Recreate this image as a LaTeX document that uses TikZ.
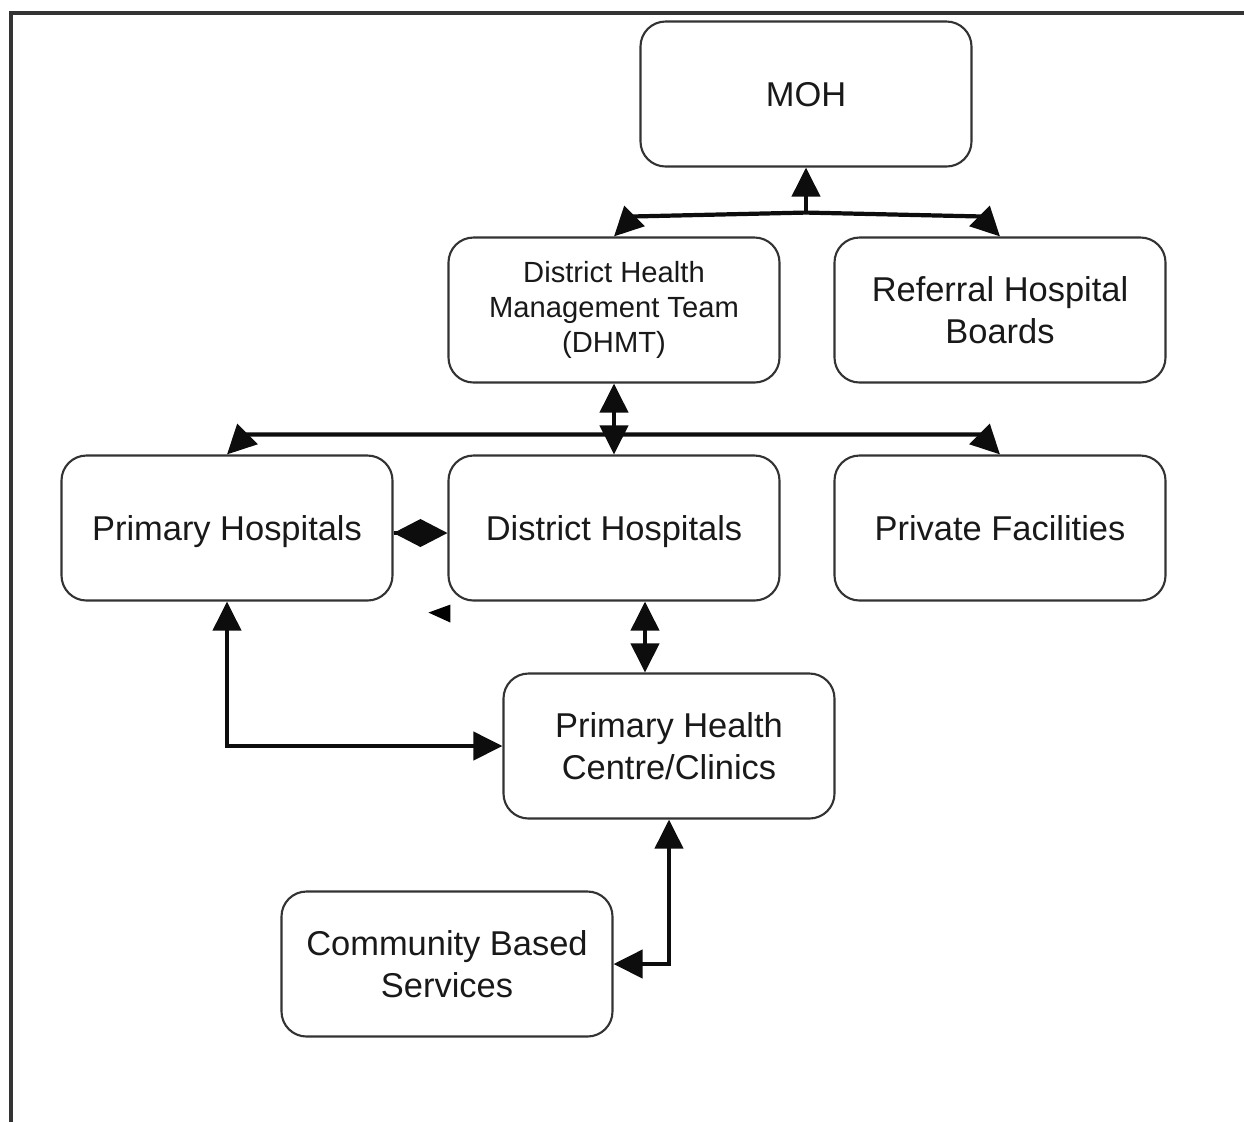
\documentclass[tikz,border=0pt]{standalone}
\usepackage{fontspec}
\setmainfont{Liberation Sans}
\usetikzlibrary{arrows.meta,positioning,calc}

\begin{document}
\begin{tikzpicture}[node distance = 2.18cm, on grid,
        box/.style = {draw=black!80, line width=0.6pt, rounded corners=0.25cm,
                      minimum width=3.31cm, minimum height=1.45cm, align=center,
                      text=black!90, font=\fontsize{9.8pt}{11.95pt}\selectfont},
        single/.style = {text depth=0pt},
        small/.style = {font=\fontsize{8.3pt}{9.96pt}\selectfont},
        tip/.tip = {Triangle[length=0.29cm, width=0.28cm]},
        link/.style = {line width=1.2pt, black!95},
        both/.style = {link, tip-tip},
        one/.style  = {link, -tip}]
                \useasboundingbox (0,0) rectangle (12.44,-11.22);
                \draw[line width=0.9pt, black!80] (12.44,-0.13) -- (0.11,-0.13) -- (0.11,-11.22);

                \node[box, small] (dhmt) at (6.14,-3.10) {District Health\\Management Team\\(DHMT)};
                \node[box, right = 3.86cm of dhmt]                (refb)  {Referral Hospital\\Boards};
                \node[box, single, above right = 2.16cm and 1.92cm of dhmt] (moh) {MOH};
                \node[box, single, below = of dhmt]              (dhosp) {District Hospitals};
                \node[box, single, left = 3.87cm of dhosp]       (phosp) {Primary Hospitals};
                \node[box, single, below = of refb]              (pfac)  {Private Facilities};
                \node[box, below right = 2.18cm and 0.55cm of dhosp] (phc) {Primary Health\\Centre/Clinics};
                \node[box, below left = 2.18cm and 2.22cm of phc]    (cbs) {Community Based\\Services};

                \coordinate (j_top) at ($(moh.south)+(0,-0.45)$);
                \coordinate (j_mid) at ($(dhmt.south)+(0,-0.51)$);

                % MOH level
                \draw[one] (j_top) -- (moh.south);
                \draw[one] (j_top) -- ($(dhmt.north)+(0.2,0.2)$) -- (dhmt.north);
                \draw[one] (j_top) -- ($(refb.north)+(-0.2,0.2)$) -- (refb.north);

                % DHMT level
                \draw[both] (dhmt.south) -- (dhosp.north);
                \draw[one] (j_mid) -- ($(phosp.north)+(0.2,0.2)$) -- (phosp.north);
                \draw[one] (j_mid) -- ($(pfac.north)+(-0.2,0.2)$) -- (pfac.north);
                \draw[link, -{Diamond[length=0.54cm, width=0.28cm]}] ([yshift=-0.05cm]phosp.east) -- ([yshift=-0.05cm]dhosp.west);
                \fill[black] ([shift={(-0.19,-0.11)}]dhosp.south west) -- ++(0.22,0.08) -- ++(0,-0.18) -- cycle;

                % hospitals to clinics
                \draw[both] ([xshift=0.31cm]dhosp.south) -- ([xshift=0.31cm]dhosp.south |- phc.north);
                \draw[both] (phosp.south) |- (phc.west);
                \draw[both] (phc.south) |- (cbs.east);
            \end{tikzpicture}
\end{document}
